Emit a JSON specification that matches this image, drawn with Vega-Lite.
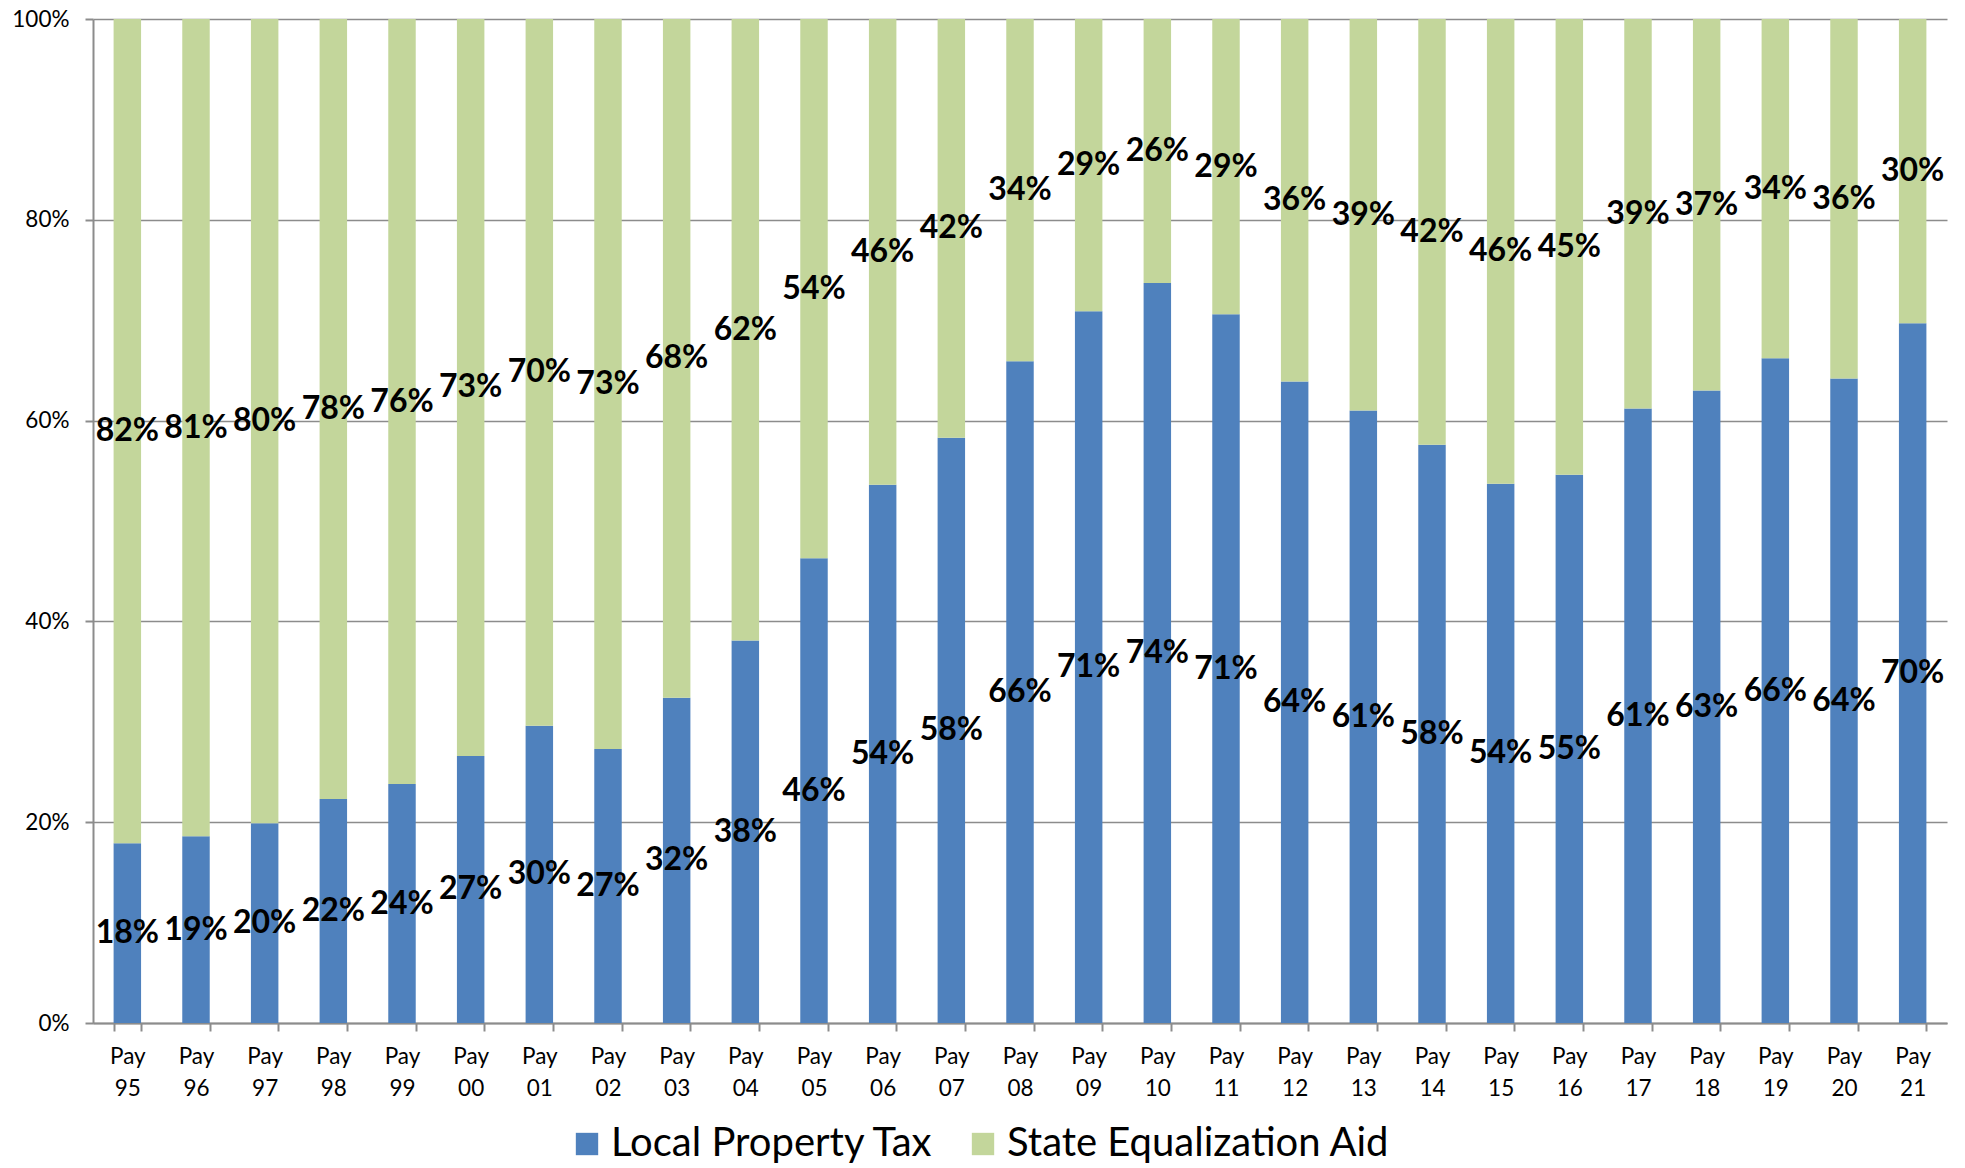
{
  "$schema": "https://vega.github.io/schema/vega-lite/v6.json",
  "autosize": {"type": "none"},
  "padding": {"left": 93, "top": 19, "right": 18, "bottom": 145},
  "width": 1854,
  "height": 1004,
  "background": "white",
  "config": {"view": {"stroke": null}, "font": "Lato"},
  "data": {"values": [
    {"year": "Pay 95", "source": "Local Property Tax", "share": 0.179},
    {"year": "Pay 96", "source": "Local Property Tax", "share": 0.186},
    {"year": "Pay 97", "source": "Local Property Tax", "share": 0.199},
    {"year": "Pay 98", "source": "Local Property Tax", "share": 0.223},
    {"year": "Pay 99", "source": "Local Property Tax", "share": 0.238},
    {"year": "Pay 00", "source": "Local Property Tax", "share": 0.266},
    {"year": "Pay 01", "source": "Local Property Tax", "share": 0.296},
    {"year": "Pay 02", "source": "Local Property Tax", "share": 0.273},
    {"year": "Pay 03", "source": "Local Property Tax", "share": 0.324},
    {"year": "Pay 04", "source": "Local Property Tax", "share": 0.381},
    {"year": "Pay 05", "source": "Local Property Tax", "share": 0.463},
    {"year": "Pay 06", "source": "Local Property Tax", "share": 0.536},
    {"year": "Pay 07", "source": "Local Property Tax", "share": 0.583},
    {"year": "Pay 08", "source": "Local Property Tax", "share": 0.659},
    {"year": "Pay 09", "source": "Local Property Tax", "share": 0.709},
    {"year": "Pay 10", "source": "Local Property Tax", "share": 0.737},
    {"year": "Pay 11", "source": "Local Property Tax", "share": 0.706},
    {"year": "Pay 12", "source": "Local Property Tax", "share": 0.639},
    {"year": "Pay 13", "source": "Local Property Tax", "share": 0.610},
    {"year": "Pay 14", "source": "Local Property Tax", "share": 0.576},
    {"year": "Pay 15", "source": "Local Property Tax", "share": 0.537},
    {"year": "Pay 16", "source": "Local Property Tax", "share": 0.546},
    {"year": "Pay 17", "source": "Local Property Tax", "share": 0.612},
    {"year": "Pay 18", "source": "Local Property Tax", "share": 0.630},
    {"year": "Pay 19", "source": "Local Property Tax", "share": 0.662},
    {"year": "Pay 20", "source": "Local Property Tax", "share": 0.642},
    {"year": "Pay 21", "source": "Local Property Tax", "share": 0.697},
    {"year": "Pay 95", "source": "State Equalization Aid", "share": 0.821},
    {"year": "Pay 96", "source": "State Equalization Aid", "share": 0.814},
    {"year": "Pay 97", "source": "State Equalization Aid", "share": 0.801},
    {"year": "Pay 98", "source": "State Equalization Aid", "share": 0.777},
    {"year": "Pay 99", "source": "State Equalization Aid", "share": 0.762},
    {"year": "Pay 00", "source": "State Equalization Aid", "share": 0.734},
    {"year": "Pay 01", "source": "State Equalization Aid", "share": 0.704},
    {"year": "Pay 02", "source": "State Equalization Aid", "share": 0.727},
    {"year": "Pay 03", "source": "State Equalization Aid", "share": 0.676},
    {"year": "Pay 04", "source": "State Equalization Aid", "share": 0.619},
    {"year": "Pay 05", "source": "State Equalization Aid", "share": 0.537},
    {"year": "Pay 06", "source": "State Equalization Aid", "share": 0.464},
    {"year": "Pay 07", "source": "State Equalization Aid", "share": 0.417},
    {"year": "Pay 08", "source": "State Equalization Aid", "share": 0.341},
    {"year": "Pay 09", "source": "State Equalization Aid", "share": 0.291},
    {"year": "Pay 10", "source": "State Equalization Aid", "share": 0.263},
    {"year": "Pay 11", "source": "State Equalization Aid", "share": 0.294},
    {"year": "Pay 12", "source": "State Equalization Aid", "share": 0.361},
    {"year": "Pay 13", "source": "State Equalization Aid", "share": 0.390},
    {"year": "Pay 14", "source": "State Equalization Aid", "share": 0.424},
    {"year": "Pay 15", "source": "State Equalization Aid", "share": 0.463},
    {"year": "Pay 16", "source": "State Equalization Aid", "share": 0.454},
    {"year": "Pay 17", "source": "State Equalization Aid", "share": 0.388},
    {"year": "Pay 18", "source": "State Equalization Aid", "share": 0.370},
    {"year": "Pay 19", "source": "State Equalization Aid", "share": 0.338},
    {"year": "Pay 20", "source": "State Equalization Aid", "share": 0.358},
    {"year": "Pay 21", "source": "State Equalization Aid", "share": 0.303}
  ]},
  "encoding": {
    "x": {
      "field": "year", "type": "nominal", "sort": null,
      "scale": {"paddingInner": 0.6, "paddingOuter": 0.3},
      "axis": {
        "title": null, "labelAngle": 0, "tickBand": "extent",
        "labelExpr": "datum.value ? split(datum.value, ' ') : ''",
        "labelFont": "Lato", "labelFontSize": 22.5, "labelColor": "#000000",
        "labelLineHeight": 32, "labelPadding": 14, "labelBaseline": "top",
        "domainColor": "#8c8c8c", "domainWidth": 2, "tickColor": "#8c8c8c", "tickWidth": 2, "tickSize": 8,
        "grid": false
      }
    },
    "y": {
      "field": "share", "type": "quantitative", "stack": "zero",
      "scale": {"domain": [0, 1], "nice": false},
      "axis": {
        "title": null, "format": ".0%", "values": [0, 0.2, 0.4, 0.6, 0.8, 1],
        "labelFont": "Lato", "labelFontSize": 22.5, "labelColor": "#000000", "labelPadding": 16,
        "domainColor": "#8c8c8c", "domainWidth": 2, "tickColor": "#8c8c8c", "tickWidth": 2, "tickSize": 8,
        "grid": true, "gridColor": "#8c8c8c", "gridWidth": 1.5
      }
    },
    "order": {"field": "source", "sort": "ascending"}
  },
  "layer": [
    {
      "mark": {"type": "bar"},
      "encoding": {
        "color": {
          "field": "source", "type": "nominal",
          "scale": {"domain": ["Local Property Tax", "State Equalization Aid"], "range": ["#4f81bd", "#c3d69b"]},
          "legend": {
            "title": null, "orient": "none", "direction": "horizontal",
            "legendX": 474, "legendY": 1105,
            "symbolType": "square", "symbolSize": 500, "symbolStrokeWidth": 0,
            "labelFont": "Lato", "labelFontSize": 40, "labelColor": "#000000",
            "labelOffset": 4, "columnPadding": 29, "labelLimit": 600
          }
        }
      }
    },
    {
      "mark": {"type": "text", "font": "Lato", "fontWeight": "bold", "fontSize": 32, "color": "#000000", "baseline": "middle", "align": "center"},
      "encoding": {
        "y": {"field": "share", "type": "quantitative", "stack": "zero", "bandPosition": 0.5},
        "detail": {"field": "source"},
        "text": {"field": "share", "type": "quantitative", "format": ".0%"}
      }
    }
  ]
}
